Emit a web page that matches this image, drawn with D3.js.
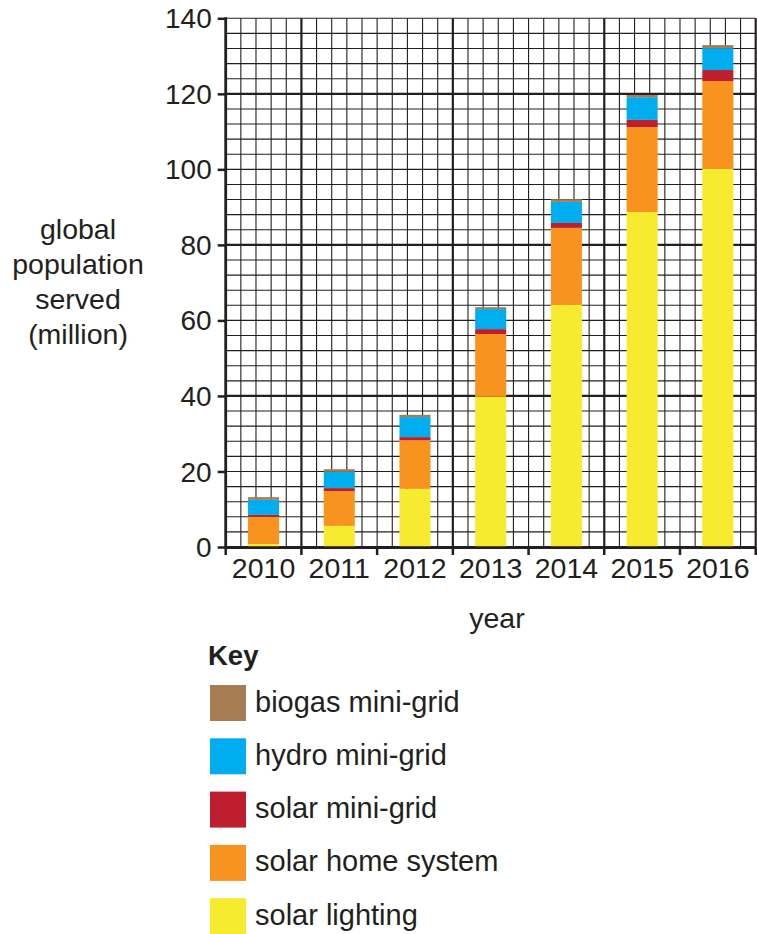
<!DOCTYPE html>
<html>
<head>
<meta charset="utf-8">
<script src="https://cdn.jsdelivr.net/npm/d3@7"></script>
<style>
  html, body { margin: 0; padding: 0; background: #fff; }
  svg { display: block; }
  text { font-family: "Liberation Sans", Arial, Helvetica, sans-serif; fill: #231f20; }
</style>
</head>
<body>
<svg id="chart" width="757" height="934"></svg>
<script>
const years = ["2010", "2011", "2012", "2013", "2014", "2015", "2016"];
const solarLighting = [0.8, 5.6, 15.4, 39.8, 64.1, 88.7, 100.1];
const solarHomeSystem = [7.2, 9.2, 12.9, 16.6, 20.4, 22.5, 23.3];
const solarMiniGrid = [0.5, 0.8, 0.8, 1.3, 1.3, 1.9, 2.9];
const hydroMiniGrid = [4.0, 4.3, 5.3, 5.3, 5.6, 6.0, 5.8];
const biogasMiniGrid = [0.7, 0.7, 0.6, 0.5, 0.7, 0.6, 0.8];
const yTicks = [0, 20, 40, 60, 80, 100, 120, 140];

const seriesNames = ["solar lighting", "solar home system", "solar mini-grid", "hydro mini-grid", "biogas mini-grid"];
const seriesValues = [solarLighting, solarHomeSystem, solarMiniGrid, hydroMiniGrid, biogasMiniGrid];
const seriesColors = ["#f7eb2f", "#f7931e", "#be1e2d", "#00aeef", "#a67c52"];

const ink = "#231f20";
const svg = d3.select("#chart");

const pLeft = 225.7, pRight = 755.7, pTop = 18.3, pBottom = 547;
const x = d3.scaleBand().domain(years).range([pLeft, pRight]).padding(0);
const y = d3.scaleLinear().domain([0, 140]).range([pBottom, pTop]);

const bw = x.bandwidth();
const minorW = bw / 5;
const nCols = Math.round((pRight - pLeft) / minorW);

// grid
const grid = svg.append("g");
d3.range(0, 141, 4).forEach(v => {
  const major = v % 40 === 0;
  grid.append("line")
    .attr("x1", pLeft).attr("x2", pRight)
    .attr("y1", y(v)).attr("y2", y(v))
    .attr("stroke", ink)
    .attr("stroke-width", major ? 2.2 : 1.1);
});
d3.range(0, nCols + 1).forEach(i => {
  const xv = pLeft + i * minorW;
  const major = i % 10 === 5;
  grid.append("line")
    .attr("x1", xv).attr("x2", xv)
    .attr("y1", pTop).attr("y2", pBottom)
    .attr("stroke", ink)
    .attr("stroke-width", major ? 2.2 : 1.1);
});

// stacked bars
const tableRows = years.map((yr, i) => {
  const row = { year: yr };
  seriesNames.forEach((n, k) => row[n] = seriesValues[k][i]);
  return row;
});
const stack = d3.stack().keys(seriesNames)(tableRows);
const barW = bw * 0.41;
svg.append("g").selectAll("g")
  .data(stack)
  .join("g")
  .attr("fill", (d, i) => seriesColors[i])
  .selectAll("rect")
  .data(d => d)
  .join("rect")
  .attr("x", d => x(d.data.year) + (bw - barW) / 2)
  .attr("width", barW)
  .attr("y", d => y(d[1]))
  .attr("height", d => y(d[0]) - y(d[1]));

// axes
const yAxis = svg.append("g").attr("transform", `translate(${pLeft},0)`)
  .call(d3.axisLeft(y).tickValues(yTicks).tickSize(8).tickPadding(6).tickFormat(d3.format("d")));
yAxis.select(".domain").remove();
yAxis.selectAll(".tick line").attr("stroke", ink).attr("stroke-width", 2.5);
yAxis.selectAll(".tick text").attr("font-size", 28).attr("dy", "0.34em")
  .style("font-family", '"Liberation Sans", Arial, sans-serif').attr("fill", ink);

svg.append("line").attr("x1", pLeft).attr("x2", pLeft).attr("y1", pTop - 1).attr("y2", pBottom + 1)
  .attr("stroke", ink).attr("stroke-width", 2.8);
svg.append("line").attr("x1", pLeft - 1).attr("x2", pRight).attr("y1", pBottom + 0.6).attr("y2", pBottom + 0.6)
  .attr("stroke", ink).attr("stroke-width", 2.6);

// x ticks at band boundaries
const boundaries = years.map(yr => x(yr)).concat([pRight]);
svg.append("g").selectAll("line").data(boundaries).join("line")
  .attr("x1", d => d).attr("x2", d => d)
  .attr("y1", pBottom).attr("y2", pBottom + 8)
  .attr("stroke", ink).attr("stroke-width", 2.5);
svg.append("g").selectAll("text").data(years).join("text")
  .attr("x", d => x(d) + bw / 2)
  .attr("y", 578)
  .attr("text-anchor", "middle")
  .attr("font-size", 28.5)
  .text(d => d);

// axis titles
svg.append("text").attr("x", 497).attr("y", 627.5).attr("text-anchor", "middle")
  .attr("font-size", 28.5).text("year");
const yTitle = ["global", "population", "served", "(million)"];
svg.append("g").selectAll("text").data(yTitle).join("text")
  .attr("x", 78).attr("y", (d, i) => 238.5 + i * 35.3)
  .attr("text-anchor", "middle").attr("font-size", 28.5).text(d => d);

// legend
svg.append("text").attr("x", 208).attr("y", 665).attr("font-size", 27.5)
  .attr("font-weight", "bold").text("Key");
const legendOrder = [4, 3, 2, 1, 0];
const lg = svg.append("g").selectAll("g").data(legendOrder).join("g")
  .attr("transform", (d, i) => `translate(210, ${685 + i * 53.3})`);
lg.append("rect").attr("width", 36).attr("height", 36).attr("fill", d => seriesColors[d]);
lg.append("text").attr("x", 45).attr("y", 26.5).attr("font-size", 29).text(d => seriesNames[d]);
</script>
</body>
</html>
